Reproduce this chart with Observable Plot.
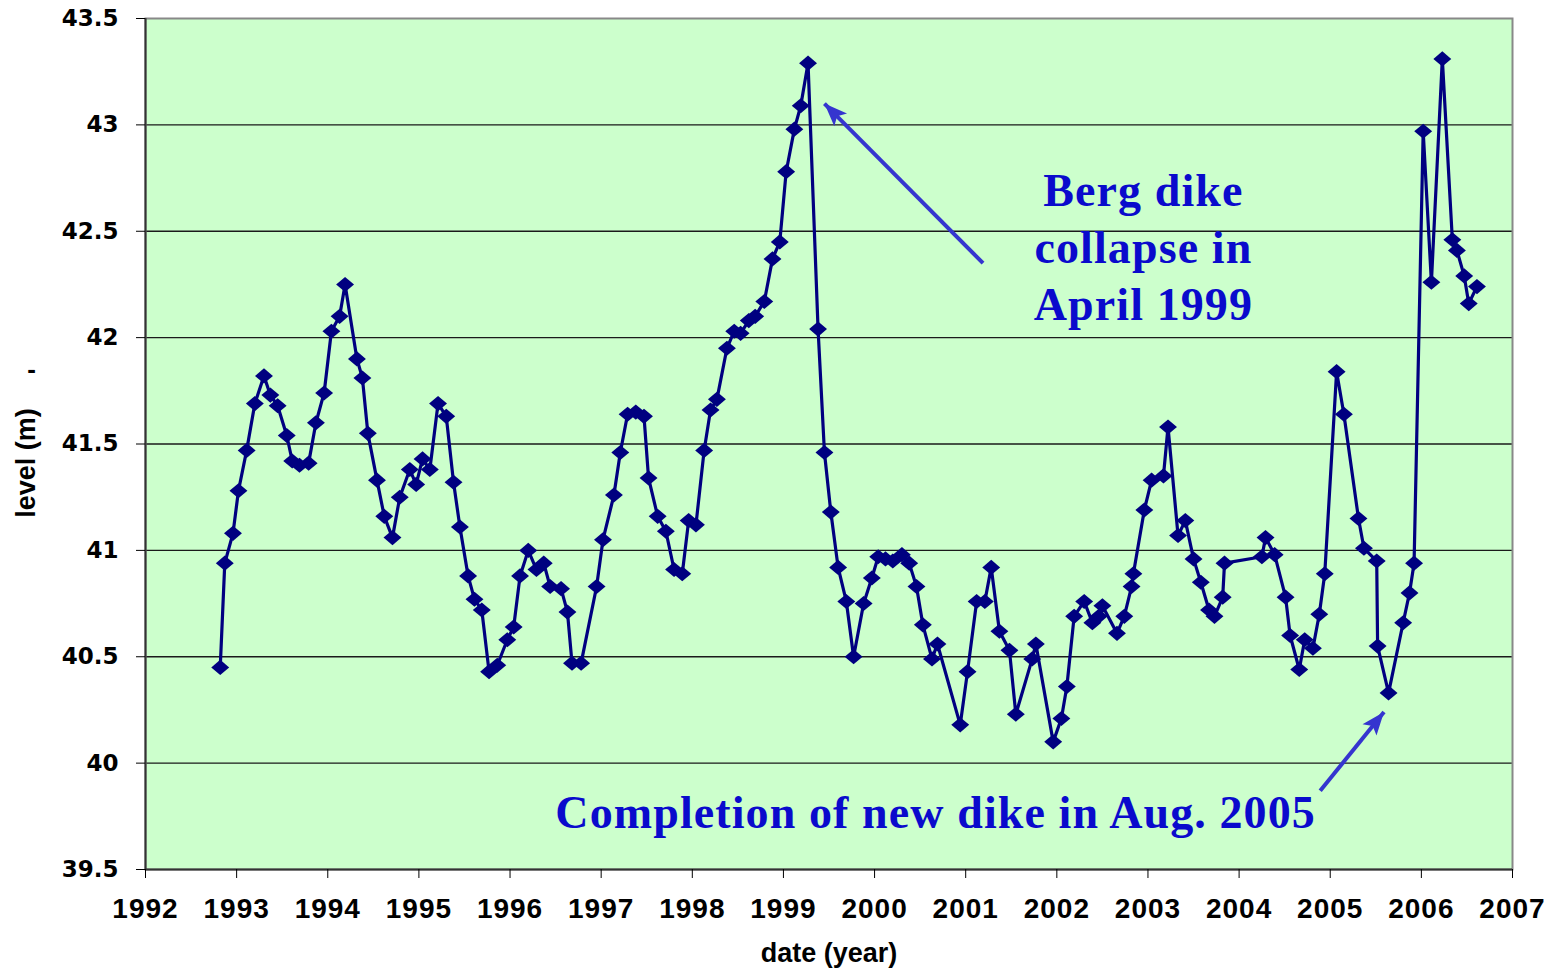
<!DOCTYPE html>
<html><head><meta charset="utf-8">
<script src="https://cdn.jsdelivr.net/npm/d3@7"></script>
<script src="https://cdn.jsdelivr.net/npm/@observablehq/plot@0.6"></script>
<style>
body{margin:0;background:#fff}
#chart svg{display:block}
g[aria-label="x-axis tick label"] text{letter-spacing:1px}
g[font-family="Liberation Serif"] text{letter-spacing:1.1px}
</style></head><body><div id="chart"></div>
<script>
const dates = [1992.82, 1992.87, 1992.96, 1993.02, 1993.11, 1993.20, 1993.30, 1993.37, 1993.45, 1993.55, 1993.61, 1993.69, 1993.79, 1993.87, 1993.96, 1994.04, 1994.13, 1994.19, 1994.32, 1994.38, 1994.44, 1994.54, 1994.62, 1994.71, 1994.79, 1994.90, 1994.97, 1995.04, 1995.12, 1995.21, 1995.30, 1995.38, 1995.45, 1995.54, 1995.61, 1995.69, 1995.77, 1995.86, 1995.97, 1996.04, 1996.11, 1996.20, 1996.29, 1996.37, 1996.44, 1996.56, 1996.63, 1996.68, 1996.78, 1996.95, 1997.02, 1997.14, 1997.21, 1997.29, 1997.38, 1997.47, 1997.52, 1997.62, 1997.71, 1997.80, 1997.89, 1997.96, 1998.04, 1998.13, 1998.20, 1998.27, 1998.38, 1998.46, 1998.53, 1998.62, 1998.69, 1998.79, 1998.88, 1998.96, 1999.03, 1999.12, 1999.19, 1999.27, 1999.38, 1999.45, 1999.52, 1999.60, 1999.69, 1999.77, 1999.88, 1999.97, 2000.04, 2000.12, 2000.20, 2000.30, 2000.38, 2000.46, 2000.53, 2000.63, 2000.69, 2000.94, 2001.02, 2001.12, 2001.21, 2001.28, 2001.37, 2001.48, 2001.55, 2001.73, 2001.77, 2001.96, 2002.05, 2002.11, 2002.19, 2002.30, 2002.39, 2002.46, 2002.50, 2002.66, 2002.74, 2002.82, 2002.84, 2002.96, 2003.04, 2003.17, 2003.22, 2003.33, 2003.41, 2003.50, 2003.58, 2003.67, 2003.73, 2003.82, 2003.84, 2004.25, 2004.29, 2004.39, 2004.51, 2004.56, 2004.66, 2004.72, 2004.81, 2004.88, 2004.94, 2005.07, 2005.15, 2005.31, 2005.37, 2005.51, 2005.52, 2005.64, 2005.80, 2005.87, 2005.92, 2006.02, 2006.11, 2006.23, 2006.34, 2006.39, 2006.47, 2006.52, 2006.61];

const levels = [40.45, 40.94, 41.08, 41.28, 41.47, 41.69, 41.82, 41.73, 41.68, 41.54, 41.42, 41.40, 41.41, 41.60, 41.74, 42.03, 42.10, 42.25, 41.90, 41.81, 41.55, 41.33, 41.16, 41.06, 41.25, 41.38, 41.31, 41.43, 41.38, 41.69, 41.63, 41.32, 41.11, 40.88, 40.77, 40.72, 40.43, 40.46, 40.58, 40.64, 40.88, 41.00, 40.91, 40.94, 40.83, 40.82, 40.71, 40.47, 40.47, 40.83, 41.05, 41.26, 41.46, 41.64, 41.65, 41.63, 41.34, 41.16, 41.09, 40.91, 40.89, 41.14, 41.12, 41.47, 41.66, 41.71, 41.95, 42.03, 42.02, 42.08, 42.10, 42.17, 42.37, 42.45, 42.78, 42.98, 43.09, 43.29, 42.04, 41.46, 41.18, 40.92, 40.76, 40.50, 40.75, 40.87, 40.97, 40.96, 40.95, 40.98, 40.94, 40.83, 40.65, 40.49, 40.56, 40.18, 40.43, 40.76, 40.76, 40.92, 40.62, 40.53, 40.23, 40.49, 40.56, 40.10, 40.21, 40.36, 40.69, 40.76, 40.66, 40.69, 40.74, 40.61, 40.69, 40.83, 40.89, 41.19, 41.33, 41.35, 41.58, 41.07, 41.14, 40.96, 40.85, 40.72, 40.69, 40.78, 40.94, 40.97, 41.06, 40.98, 40.78, 40.60, 40.44, 40.58, 40.54, 40.70, 40.89, 41.84, 41.64, 41.15, 41.01, 40.95, 40.55, 40.33, 40.66, 40.80, 40.94, 42.97, 42.26, 43.31, 42.46, 42.41, 42.29, 42.16, 42.24];

const xTicks = [1992, 1993, 1994, 1995, 1996, 1997, 1998, 1999, 2000, 2001, 2002, 2003, 2004, 2005, 2006, 2007];
const yTicks = [39.5, 40, 40.5, 41, 41.5, 42, 42.5, 43, 43.5];

const noteTexts = ["Berg dike\ncollapse in\nApril 1999", "Completion of new dike in Aug. 2005"];
const noteX = [2002.95, 2000.67];
const noteY = [42.435, 39.78];

const arrowFromX = [2001.19, 2004.89];
const arrowFromY = [42.35, 39.87];
const arrowToX = [1999.45, 2005.59];
const arrowToY = [43.10, 40.24];

const xLabel = "date (year)";
const yLabel = "level (m)";

const W = 1550, H = 968, ML = 145, MR = 38, MT = 18, MB = 99;
const xDomain = [1992, 2007], yDomain = [39.5, 43.5];

const data = dates.map((d, i) => ({date: d, level: levels[i]}));
const notes = noteTexts.map((t, i) => ({text: t, x: noteX[i], y: noteY[i]}));

// standalone scales (same as the plot's) to orient the filled arrowheads
const sx = Plot.scale({x: {domain: xDomain, range: [ML, W - MR]}});
const sy = Plot.scale({y: {domain: yDomain, range: [H - MB, MT]}});
const arrows = arrowFromX.map((d, i) => {
  const dx = sx.apply(arrowToX[i]) - sx.apply(d);
  const dy = sy.apply(arrowToY[i]) - sy.apply(arrowFromY[i]);
  return {x1: d, y1: arrowFromY[i], x2: arrowToX[i], y2: arrowToY[i], angle: Math.atan2(dx, -dy) * 180 / Math.PI};
});

const wideDiamond = {
  draw(context, size) {
    const s = Math.sqrt(size / Math.PI);
    const hw = s * 1.6, hh = s * 1.35;
    context.moveTo(0, -hh);
    context.lineTo(hw, 0);
    context.lineTo(0, hh);
    context.lineTo(-hw, 0);
    context.closePath();
  }
};
const arrowHead = {
  draw(context, size) {
    const s = Math.sqrt(size / Math.PI);
    context.moveTo(0, 0);
    context.lineTo(s * 0.9, s * 2.3);
    context.lineTo(0, s * 1.8);
    context.lineTo(-s * 0.9, s * 2.3);
    context.closePath();
  }
};

const chart = Plot.plot({
  width: W, height: H,
  marginLeft: ML, marginRight: MR, marginTop: MT, marginBottom: MB,
  style: {background: "#fff", fontFamily: "Liberation Sans, Arial, sans-serif", overflow: "visible", color: "#000"},
  x: {domain: xDomain},
  y: {domain: yDomain},
  marks: [
    Plot.frame({fill: "#CCFFCC", stroke: "none"}),
    Plot.ruleY(yTicks.slice(1, -1), {stroke: "#1a1a1a", strokeWidth: 1.3}),
    Plot.frame({stroke: "#888", strokeWidth: 2}),
    Plot.ruleX([1992], {stroke: "#333", strokeWidth: 2}),
    Plot.ruleY([39.5], {stroke: "#333", strokeWidth: 2}),
    Plot.axisX({ticks: xTicks, tickFormat: "d", tickSize: 9, tickPadding: 20, fontSize: 28, fontWeight: "bold", fontFamily: "Liberation Sans", label: null}),
    Plot.axisY({ticks: yTicks, tickFormat: d => String(d), tickSize: 9, tickPadding: 18, fontSize: 23, fontWeight: "bold", fontFamily: "DejaVu Sans", label: null}),
    Plot.line(data, {x: "date", y: "level", stroke: "#000080", strokeWidth: 3.2}),
    Plot.dot(data, {x: "date", y: "level", symbol: wideDiamond, r: 5.6, fill: "#000080", stroke: "none"}),
    Plot.link(arrows, {x1: "x1", y1: "y1", x2: "x2", y2: "y2", stroke: "#3535CF", strokeWidth: 4}),
    Plot.dot(arrows, {x: "x2", y: "y2", rotate: "angle", symbol: arrowHead, r: 10, fill: "#3535CF", stroke: "none"}),
    Plot.text(notes, {x: "x", y: "y", text: "text", fill: "#0A0ACC", fontSize: 46, fontWeight: "bold", fontFamily: "Liberation Serif", lineHeight: 1.24, lineAnchor: "middle", textAnchor: "middle"}),
    Plot.text([xLabel], {text: d => d, frameAnchor: "bottom", dy: 84, textAnchor: "middle", lineAnchor: "middle", fontSize: 27, fontWeight: "bold"}),
    Plot.text([yLabel], {text: d => d, frameAnchor: "left", dx: -119, dy: 19, rotate: -90, textAnchor: "middle", lineAnchor: "middle", fontSize: 27, fontWeight: "bold"}),
    Plot.text(["-"], {text: d => d, frameAnchor: "left", dx: -114, dy: -74, textAnchor: "middle", lineAnchor: "middle", fontSize: 26, fontWeight: "bold"})
  ]
});
document.getElementById("chart").appendChild(chart);
</script></body></html>
